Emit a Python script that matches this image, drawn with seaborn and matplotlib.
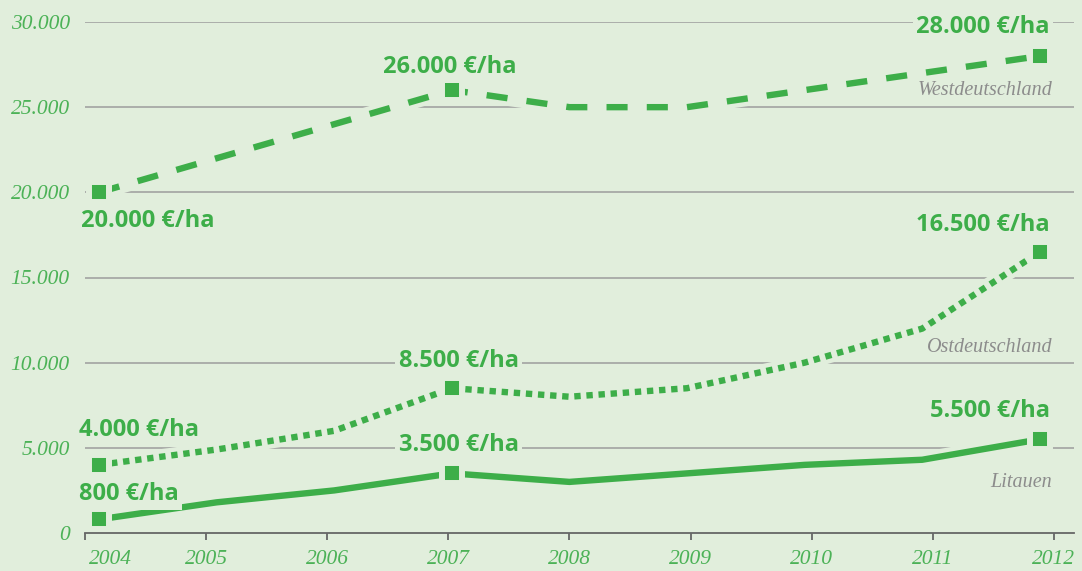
import numpy as np
import pandas as pd
import seaborn as sns
import matplotlib.pyplot as plt
import matplotlib.transforms as mtransforms

# data (EUR per hectare)
years = [2004, 2005, 2006, 2007, 2008, 2009, 2010, 2011, 2012]
west = [20000, 22000, 24000, 26000, 25000, 25000, 26000, 27000, 28000]
ost = [4000, 4900, 6000, 8500, 8000, 8500, 10000, 12000, 16500]
litauen = [800, 1800, 2500, 3500, 3000, 3500, 4000, 4300, 5500]
series_names = ['Westdeutschland', 'Ostdeutschland', 'Litauen']
marked_idx = [0, 3, 8]
ytick_vals = [0, 5000, 10000, 15000, 20000, 25000, 30000]
ytick_labels = ['0', '5.000', '10.000', '15.000', '20.000', '25.000', '30.000']

bg = '#e1eedc'
green = '#3dae49'
light_green = '#4cb257'
grey_text = '#8c8c8c'

sns.set_style('white')
plt.rcParams['font.family'] = ['Open Sans', 'DejaVu Sans']

fig = plt.figure(figsize=(10.82, 5.71), dpi=100, facecolor=bg)
ax = fig.add_axes([85 / 1082, 38 / 571, 989 / 1082, 511 / 571])
ax.set_facecolor(bg)

ax.set_ylim(0, 30000)
x0 = 2004 - 14 / 117.6
ax.set_xlim(x0, 2004 + 975 / 117.6)

# horizontal grid
for v in ytick_vals[1:]:
    ax.axhline(v, color='#9d9d9d', lw=1.1, zorder=1)

line_styles = [(0, (3.3, 3.0)), (0, (1.0, 0.9)), '-']
all_vals = [west, ost, litauen]

for vals, ls in zip(all_vals, line_styles):
    # halo behind each line hides the grid
    sns.lineplot(x=years, y=vals, ax=ax, color=bg, lw=11, zorder=2)
    sns.lineplot(x=years, y=vals, ax=ax, color=green, lw=4.6,
                 linestyle=ls, zorder=3)
    ax.lines[-1].set_solid_capstyle('butt')
    ax.lines[-1].set_dash_capstyle('butt')
    mx = [years[i] for i in marked_idx]
    my = [vals[i] for i in marked_idx]
    sns.scatterplot(x=mx, y=my, ax=ax, marker='s', s=14.4 ** 2,
                    color=green, edgecolor=bg, linewidth=4.3, zorder=4)

# value labels: (series, index, dx px, dy px, ha)
lab_fmt = lambda v: f'{v:,.0f}'.replace(',', '.') + ' €/ha'
label_spec = [
    (0, 0, -18, -29, 'left'), (0, 3, -2, 23, 'center'), (0, 8, 10, 29, 'right'),
    (1, 0, -20, 35, 'left'), (1, 3, 7, 27, 'center'), (1, 8, 10, 27, 'right'),
    (2, 0, -20, 25, 'left'), (2, 3, 7, 28, 'center'), (2, 8, 10, 28, 'right'),
]
for s, i, dx, dy, ha in label_spec:
    ax.annotate(lab_fmt(all_vals[s][i]), (years[i], all_vals[s][i]),
                xytext=(dx, dy), textcoords='offset pixels',
                ha=ha, va='center', fontsize=17, fontweight='bold',
                color=green, zorder=5, annotation_clip=False,
                bbox=dict(boxstyle='square,pad=0.15', fc=bg, ec='none'))

# series names
trans = mtransforms.blended_transform_factory(ax.transAxes, ax.transData)
for name, yv in zip(series_names, [25950, 10900, 2950]):
    ax.text(0.978, yv, name, transform=trans, ha='right', va='center',
            fontsize=14.5, fontstyle='italic', family='Liberation Serif',
            color=grey_text, zorder=5)

# axes
xticks_pos = [x0 + k * 121.1 / 117.6 for k in range(len(years))]
ax.set_xticks(xticks_pos)
ax.set_xticklabels([str(y) for y in years])
ax.set_yticks(ytick_vals)
ax.set_yticklabels(ytick_labels)
for t in ax.get_xticklabels() + ax.get_yticklabels():
    t.set_fontfamily('Liberation Serif')
    t.set_fontstyle('italic')
    t.set_fontsize(15.5)
    t.set_color(light_green)
ax.tick_params(axis='x', direction='out', length=5, width=1.3,
               color='#666666', pad=7, bottom=True)
ax.tick_params(axis='y', length=0, pad=11)
# first year label sits right of its tick
first = ax.get_xticklabels()[0]
first.set_ha('left')
first.set_transform(first.get_transform() +
                    mtransforms.ScaledTranslation(4 / 100, 0, fig.dpi_scale_trans))
for sp in ['top', 'right', 'left']:
    ax.spines[sp].set_visible(False)
ax.spines['bottom'].set_color('#666666')
ax.spines['bottom'].set_linewidth(1.3)
ax.set_xlabel('')
ax.set_ylabel('')

fig.savefig('out.png', dpi=100, facecolor=bg)
